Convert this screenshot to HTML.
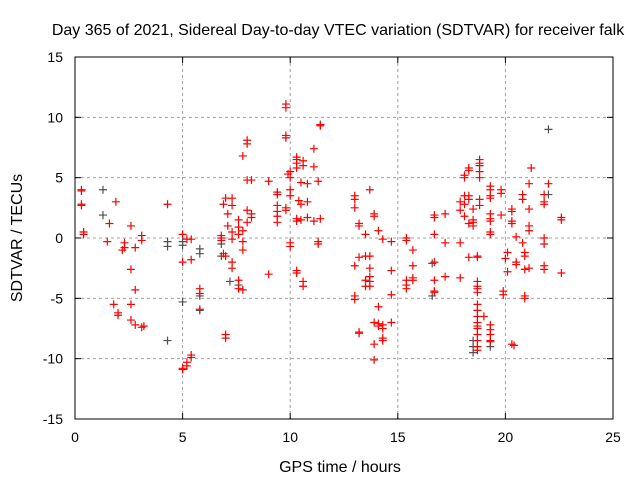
<!DOCTYPE html>
<html><head><meta charset="utf-8"><style>
html,body{margin:0;padding:0;background:#fff;}
svg{display:block;font-family:"Liberation Sans",sans-serif;}
</style></head><body>
<svg id="chart" width="640" height="480">
<text x="338" y="35" text-anchor="middle" font-size="16">Day 365 of 2021, Sidereal Day-to-day VTEC variation (SDTVAR) for receiver falk</text>
<g id="grid"></g>
<g id="axes"></g>
<g id="gray"></g>
<g id="red"></g>
<text x="340" y="472" text-anchor="middle" font-size="16">GPS time / hours</text>
<text transform="translate(22,238) rotate(-90)" text-anchor="middle" font-size="16">SDTVAR / TECUs</text>
</svg>
<script>
const xTicks=[0,5,10,15,20,25];
const yTicks=[-15,-10,-5,0,5,10,15];
const redX=[0.3,0.3,0.3,0.3,0.4,0.4,1.5,1.6,1.9,1.8,2.0,2.0,2.2,2.3,2.3,2.6,2.6,2.6,2.6,2.8,2.8,2.8,3.1,3.1,3.1,3.2,4.3,5.0,5.0,5.0,5.0,5.2,5.2,5.2,5.4,5.4,5.4,5.4,5.8,5.8,5.8,
6.8,6.8,6.8,6.9,7.0,6.9,7.0,7.0,7.1,7.1,7.0,7.3,7.3,7.3,7.3,7.3,7.3,7.6,7.6,7.6,7.6,7.6,7.8,7.8,7.8,7.8,7.8,8.0,8.0,8.0,8.0,8.0,8.2,8.2,8.2,
9.0,9.0,9.4,9.4,9.4,9.4,9.4,9.4,9.8,9.8,9.8,9.8,9.9,9.8,9.8,10.0,10.0,10.0,10.0,10.0,10.0,10.3,10.3,10.3,10.3,10.3,10.3,10.4,10.3,10.3,10.6,10.6,10.5,10.5,10.5,10.6,10.6,10.8,10.8,10.8,11.1,11.1,11.1,11.4,11.4,11.3,11.4,11.3,11.3,
13.0,13.0,13.0,13.0,13.0,13.0,13.2,13.2,13.2,13.2,13.2,13.5,13.5,13.5,13.5,13.7,13.7,13.7,13.7,13.7,13.7,13.9,13.9,13.9,13.9,13.9,14.1,14.1,14.1,14.1,14.3,14.3,14.3,14.3,14.3,14.7,14.7,14.7,14.7,15.4,15.4,15.4,15.4,15.4,15.7,15.7,15.7,15.7,
16.7,16.7,16.7,16.7,16.7,16.7,16.7,17.2,17.2,17.2,17.9,17.9,17.9,17.9,18.1,18.1,18.1,18.1,18.1,18.3,18.3,18.3,18.3,18.3,18.3,18.5,18.5,18.5,18.5,
18.7,18.7,18.7,18.7,18.7,18.7,18.7,18.7,18.7,18.7,18.7,18.7,18.7,18.7,18.7,18.7,18.8,18.8,18.8,18.8,18.8,18.8,18.8,19.0,
19.3,19.3,19.3,19.3,19.3,19.3,19.3,19.3,19.3,19.3,19.3,19.3,19.3,19.8,19.8,19.8,19.9,19.9,20.0,20.1,20.1,20.3,20.3,20.3,20.3,20.3,20.4,20.5,20.5,20.5,
20.8,20.8,20.8,20.9,20.9,20.9,20.9,20.9,21.1,21.1,21.1,21.1,21.1,21.2,21.8,21.8,21.8,21.8,21.8,21.8,21.8,22.0,22.6,22.6,22.6];
const redY=[4.0,3.9,2.8,2.7,0.5,0.3,-0.3,1.2,3.0,-5.5,-6.2,-6.4,-1.0,-0.8,-0.4,1.0,-2.6,-5.5,-6.8,-0.8,-4.3,-7.2,0.2,-0.2,-7.4,-7.3,2.8,0.3,-2.0,-10.8,-10.9,-10.6,-10.3,-0.1,-0.1,-9.9,-9.7,-1.8,-4.2,-4.6,-5.9,
0.2,0.0,-0.2,2.8,3.3,-1.3,-8.0,-8.3,2.0,1.0,-1.5,3.3,2.7,-2.0,0.5,-0.1,-2.5,0.9,1.5,0.3,-3.5,-4.2,0.6,-0.3,-1.0,-4.3,6.8,1.3,2.3,4.8,7.8,8.1,1.7,2.0,4.8,
4.7,-3.0,3.8,3.6,2.7,1.8,2.2,1.3,11.1,10.8,8.3,8.5,5.3,2.5,2.3,4.0,3.5,5.0,-0.4,-0.7,5.5,6.7,6.5,6.2,5.8,1.6,1.4,3.1,-2.9,-2.7,6.4,6.0,4.6,2.8,1.5,-3.6,-4.0,4.5,3.0,1.7,7.4,5.9,1.4,9.4,9.3,4.7,1.6,-0.3,-0.5,
3.2,3.5,2.5,-2.3,-4.8,-5.1,1.2,1.0,-1.6,-7.8,-7.9,-1.5,-3.5,-4.0,0.3,4.0,-3.6,-4.0,-3.2,-1.5,-2.5,2.0,1.8,-7.0,-8.8,-10.1,0.6,-5.7,-7.1,-7.3,-0.1,-8.3,-8.5,-7.5,-7.2,-0.3,-2.7,-4.7,-7.0,0.0,-0.2,-3.9,-4.2,-3.5,-1.0,-2.3,-3.3,-3.5,
1.7,1.9,0.3,-2.0,-3.5,-4.4,-4.5,2.0,-0.4,-3.2,2.3,3.0,-0.4,-3.3,5.0,5.2,3.5,1.8,2.8,5.6,5.8,3.5,3.2,1.2,-1.6,2.4,1.5,1.3,1.0,
-1.5,-1.6,-3.6,-4.0,-4.2,-4.5,-5.5,-6.0,-6.5,-7.0,-7.3,-7.5,-8.0,-8.5,-9.0,-9.3,6.5,6.2,6.0,5.5,5.0,3.2,2.7,-6.5,
4.3,4.0,3.5,3.3,2.0,1.6,1.4,0.5,0.3,-7.2,-7.6,-8.0,-8.5,4.0,3.7,1.9,-4.7,-4.4,-1.7,-1.2,-2.8,2.4,2.2,1.4,1.2,-8.8,-8.9,-2.0,-2.2,0.1,
3.6,3.2,-0.4,-1.2,-1.5,-2.6,-4.8,-5.0,4.5,2.4,1.0,0.6,-2.5,5.8,3.6,3.0,2.8,0.0,-0.5,-2.3,-2.6,4.5,1.7,1.5,-2.9];
const grayX=[1.3,1.3,4.3,4.3,4.3,5.0,5.0,5.0,5.8,5.8,5.8,5.8,6.8,6.8,7.2,7.6,16.6,16.6,18.5,18.5,18.5,19.3,19.3,22.0,22.0];
const grayY=[4.0,1.9,-0.3,-0.7,-8.5,-0.3,-0.6,-5.3,-0.9,-1.3,-6.0,-4.8,-1.5,-0.5,-3.6,-3.9,-4.8,-2.1,-9.5,-9.0,-8.5,-9.0,-8.6,9.0,3.6];
const X0=75,X1=613,Y0=419,Y1=57;
const xs=v=>X0+(v-0)/(25-0)*(X1-X0);
const ys=v=>Y0-(v+15)/30*(Y0-Y1);
const NS='http://www.w3.org/2000/svg';
function mk(tag,at,parent){const e=document.createElementNS(NS,tag);for(const k in at)e.setAttribute(k,at[k]);parent.appendChild(e);return e;}
const grid=document.getElementById('grid'),axes=document.getElementById('axes');
xTicks.forEach(t=>{const x=xs(t);
 if(t>0&&t<25){const l=mk('line',{x1:x,x2:x,y1:Y1,y2:Y0,stroke:'#a0a0a0','stroke-dasharray':'3,3'},grid);
 
 }
 mk('line',{x1:x,x2:x,y1:Y0,y2:Y0-6,stroke:'#000'},axes);
 mk('line',{x1:x,x2:x,y1:Y1,y2:Y1+6,stroke:'#000'},axes);
 const tx=mk('text',{x:x,y:Y0+23,'text-anchor':'middle','font-size':'14'},axes);tx.textContent=t;
 
 
});
yTicks.forEach(t=>{const y=ys(t);
 if(t>-15&&t<15){const l=mk('line',{x1:X0,x2:X1,y1:y,y2:y,stroke:'#a0a0a0','stroke-dasharray':'3,3'},grid);
 
 }
 mk('line',{x1:X0,x2:X0+6,y1:y,y2:y,stroke:'#000'},axes);
 mk('line',{x1:X1,x2:X1-6,y1:y,y2:y,stroke:'#000'},axes);
 const tx=mk('text',{x:X0-12,y:y+5,'text-anchor':'end','font-size':'14'},axes);tx.textContent=t;
 
 
});
const fr=mk('rect',{x:X0,y:Y1,width:X1-X0,height:Y0-Y1,fill:'none',stroke:'#000'},axes);


function plus(g,x,y,c,name){const p=mk('path',{d:`M${x-4},${y}h8M${x},${y-4}v8`,stroke:c,'stroke-width':'1.2',fill:'none'},g);
 
 }
const gg=document.getElementById('gray'),rg=document.getElementById('red');
grayX.forEach((v,i)=>plus(gg,xs(v),ys(grayY[i]),'#505050','gray-point'));
redX.forEach((v,i)=>plus(rg,xs(v),ys(redY[i]),'#ff0000','red-point'));
</script>
</body></html>
